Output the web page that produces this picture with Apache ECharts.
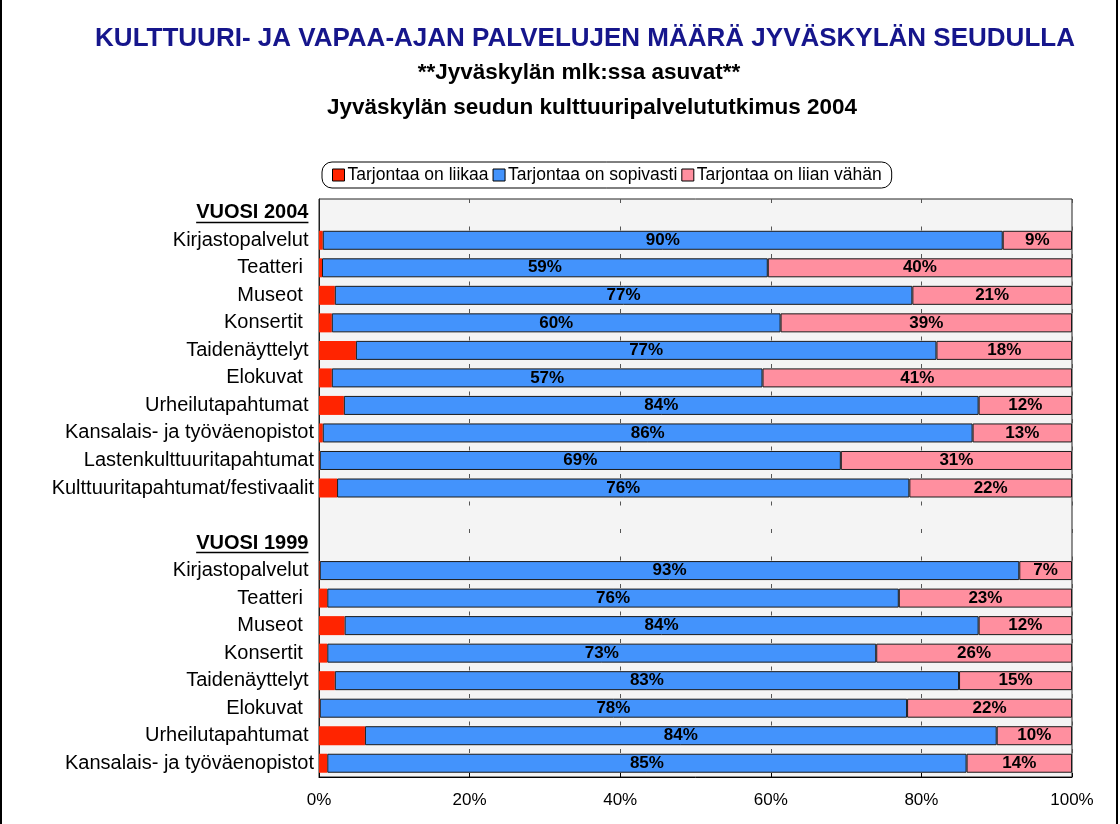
<!DOCTYPE html>
<html>
<head>
<meta charset="utf-8">
<title>Kulttuuri- ja vapaa-ajan palvelujen määrä</title>
<script src="https://cdn.jsdelivr.net/npm/echarts@6/dist/echarts.min.js"></script>
<style>
  html, body { margin: 0; padding: 0; background: #fff; }
  #chart { width: 1120px; height: 824px; }
</style>
</head>
<body>
<div id="chart"></div>
<script>
// Category names (trailing spaces kept as in the source sheet)
const header2004 = 'VUOSI 2004 ';
const header1999 = 'VUOSI 1999 ';
const services2004 = ['Kirjastopalvelut ', 'Teatteri  ', 'Museot  ', 'Konsertit  ', 'Taidenäyttelyt ',
  'Elokuvat  ', 'Urheilutapahtumat ', 'Kansalais- ja työväenopistot', 'Lastenkulttuuritapahtumat',
  'Kulttuuritapahtumat/festivaalit'];
const services1999 = ['Kirjastopalvelut ', 'Teatteri  ', 'Museot  ', 'Konsertit  ', 'Taidenäyttelyt ',
  'Elokuvat  ', 'Urheilutapahtumat ', 'Kansalais- ja työväenopistot'];

// Shares (%) per answer, year 2004
const tooMuch2004   = [0.5, 0.4, 2.1, 1.7, 4.9, 1.7, 3.3, 0.5, 0.1, 2.4];
const justRight2004 = [90.3, 59.2, 76.7, 59.6, 77.1, 57.2, 84.3, 86.3, 69.2, 76.0];
const tooLittle2004 = [9.2, 40.4, 21.2, 38.7, 18.0, 41.1, 12.4, 13.2, 30.7, 21.6];

// Shares (%) per answer, year 1999
const tooMuch1999   = [0.1, 1.1, 3.4, 1.1, 2.1, 0.1, 6.1, 1.1];
const justRight1999 = [92.9, 75.9, 84.2, 72.9, 82.9, 78.0, 83.9, 84.9];
const tooLittle1999 = [7.0, 23.0, 12.4, 26.0, 15.0, 21.9, 10.0, 14.0];

const seriesNames = ['Tarjontaa on liikaa', 'Tarjontaa on sopivasti', 'Tarjontaa on liian vähän'];
const xTicks = [0, 20, 40, 60, 80, 100];

const titleText = 'KULTTUURI- JA VAPAA-AJAN PALVELUJEN MÄÄRÄ JYVÄSKYLÄN SEUDULLA';
const subtitleText = '**Jyväskylän mlk:ssa asuvat**';
const sourceText = 'Jyväskylän seudun kulttuuripalvelututkimus 2004';

// Rows: header, 2004 items, blank, header, 1999 items
const categories = [header2004, ...services2004, '', header1999, ...services1999];
const rows = (a, b) => [null, ...a, null, null, ...b];
const headers = [header2004, header1999];

const FONT = '"Liberation Sans", Arial, sans-serif';
const GRID = { left: 319, right: 48, top: 199, bottom: 47 };
const LABEL_MARGIN = 5;

const chart = echarts.init(document.getElementById('chart'), null, { renderer: 'canvas' });

const valueLabel = {
  show: true,
  position: 'inside',
  fontFamily: FONT,
  fontWeight: 'bold',
  fontSize: 17,
  color: '#000',
  formatter: p => (p.value == null ? '' : Math.round(p.value) + '%')
};

const baseGraphics = [
  { id: 'frame', type: 'rect', silent: true,
    shape: { x: 1, y: -10, width: 1116, height: 850 },
    style: { fill: 'none', stroke: '#000', lineWidth: 2 } },
  { id: 't1', type: 'text', x: 585, y: 39,
    style: { text: titleText, font: 'bold 26px ' + FONT, fill: '#16168c', align: 'center', verticalAlign: 'middle' } },
  { id: 't2', type: 'text', x: 579, y: 73,
    style: { text: subtitleText, font: 'bold 22.5px ' + FONT, fill: '#000', align: 'center', verticalAlign: 'middle' } },
  { id: 't3', type: 'text', x: 592, y: 108,
    style: { text: sourceText, font: 'bold 22.5px ' + FONT, fill: '#000', align: 'center', verticalAlign: 'middle' } }
];

const option = {
  animation: false,
  backgroundColor: '#fff',
  textStyle: { fontFamily: FONT },
  legend: {
    data: seriesNames,
    left: 322,
    top: 162,
    orient: 'horizontal',
    padding: [4, 10],
    itemGap: 4,
    itemWidth: 12,
    itemHeight: 12,
    borderColor: '#000',
    borderWidth: 1,
    borderRadius: 10,
    icon: 'rect',
    itemStyle: { borderColor: '#000', borderWidth: 1 },
    textStyle: { fontFamily: FONT, fontSize: 17.5, color: '#000', padding: [0, 0, 0, -2] }
  },
  grid: {
    left: GRID.left, right: GRID.right, top: GRID.top, bottom: GRID.bottom,
    show: true, backgroundColor: '#f4f4f4', borderColor: '#222', borderWidth: 1
  },
  xAxis: {
    type: 'value',
    min: xTicks[0],
    max: xTicks[xTicks.length - 1],
    interval: xTicks[1] - xTicks[0],
    axisLine: { show: true, lineStyle: { color: '#000' } },
    axisTick: { show: true, inside: true, length: 4, lineStyle: { color: '#000' } },
    axisLabel: { formatter: '{value}%', fontFamily: FONT, fontSize: 17, color: '#000', margin: 15 },
    splitLine: { show: true, lineStyle: { color: '#555', width: 1, type: [4, 23.5] } }
  },
  yAxis: {
    type: 'category',
    inverse: true,
    data: categories,
    axisLine: { show: true, lineStyle: { color: '#222' } },
    axisTick: { show: false },
    axisLabel: {
      fontFamily: FONT, fontSize: 20, color: '#000', margin: LABEL_MARGIN,
      formatter: v => (headers.includes(v) ? '{h|' + v + '}' : v),
      rich: { h: { fontFamily: FONT, fontSize: 20, fontWeight: 'bold', color: '#000' } }
    }
  },
  series: [
    { name: seriesNames[0], type: 'bar', stack: 'total', barWidth: 19,
      itemStyle: { color: '#ff2400' },
      data: rows(tooMuch2004, tooMuch1999) },
    { name: seriesNames[1], type: 'bar', stack: 'total', barWidth: 19,
      itemStyle: { color: '#4393fc', borderColor: '#1a1a1a', borderWidth: 1 },
      label: valueLabel,
      data: rows(justRight2004, justRight1999) },
    { name: seriesNames[2], type: 'bar', stack: 'total', barWidth: 19,
      itemStyle: { color: '#ff8f9f', borderColor: '#1a1a1a', borderWidth: 1 },
      label: valueLabel,
      data: rows(tooLittle2004, tooLittle1999) }
  ],
  graphic: baseGraphics
};

chart.setOption(option);

// Underline the two year headers on the category axis
const ctx = document.createElement('canvas').getContext('2d');
ctx.font = 'bold 20px ' + FONT;
const underlines = headers.map((h, i) => {
  const idx = categories.indexOf(h);
  const y = chart.convertToPixel({ yAxisIndex: 0 }, idx);
  const full = ctx.measureText(h).width;
  const trimmed = ctx.measureText(h.trim()).width;
  const right = GRID.left - LABEL_MARGIN - (full - trimmed);
  return {
    id: 'u' + i, type: 'line', silent: true,
    shape: { x1: right - trimmed, y1: Math.round(y + 9) + 0.5, x2: right, y2: Math.round(y + 9) + 0.5 },
    style: { stroke: '#000', lineWidth: 1.5 }
  };
});
chart.setOption({ graphic: [...baseGraphics, ...underlines] });
</script>
</body>
</html>
